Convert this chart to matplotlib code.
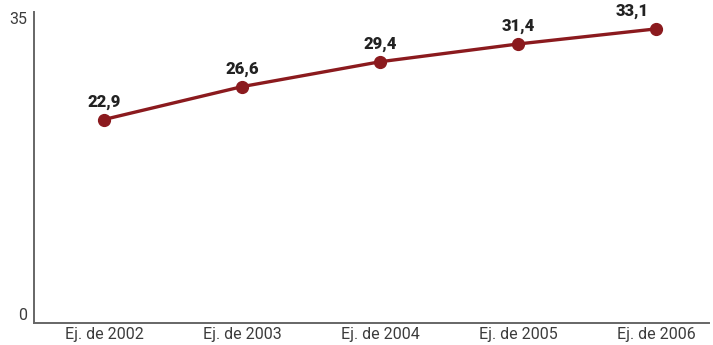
import matplotlib
matplotlib.use("Agg")
import matplotlib.pyplot as plt

categories = ["Ej. de 2002", "Ej. de 2003", "Ej. de 2004", "Ej. de 2005", "Ej. de 2006"]
values = [22.9, 26.6, 29.4, 31.4, 33.1]
value_labels = ["22,9", "26,6", "29,4", "31,4", "33,1"]

plt.rcParams['font.family'] = ['Roboto', 'DejaVu Sans']

fig = plt.figure(figsize=(7.13, 3.45), dpi=100)
ax = fig.add_axes([0.0477, 0.0638, 0.9467, 0.9014])

x = list(range(len(values)))
ax.plot(x, values, color='#8b1a1e', lw=2.4, marker='o', markersize=8.5, zorder=3)

for i, (v, lab) in enumerate(zip(values, value_labels)):
    dx = -17 if i == len(values) - 1 else 0
    ax.annotate(lab, (i, v), xytext=(dx, 7), textcoords='offset points',
                ha='center', va='bottom', fontsize=12, fontweight='heavy', color='#222222')

ax.set_xlim(-0.507, 4.384)
ax.set_ylim(0, 35)
ax.set_xticks(x)
ax.set_xticklabels(categories, fontsize=11.5, color='#3c3c3c')
ax.set_yticks([0, 35])
ax.set_yticklabels(["0", "35"], fontsize=11.5, color='#3c3c3c')
ylabs = ax.get_yticklabels()
ylabs[0].set_va('bottom')
ylabs[1].set_va('top')
ax.tick_params(length=0, pad=5)
ax.tick_params(axis='x', pad=3)

for s in ['top', 'right']:
    ax.spines[s].set_visible(False)
for s in ['left', 'bottom']:
    ax.spines[s].set_color('#666666')
    ax.spines[s].set_linewidth(1.4)

fig.savefig("out.png", dpi=100)
